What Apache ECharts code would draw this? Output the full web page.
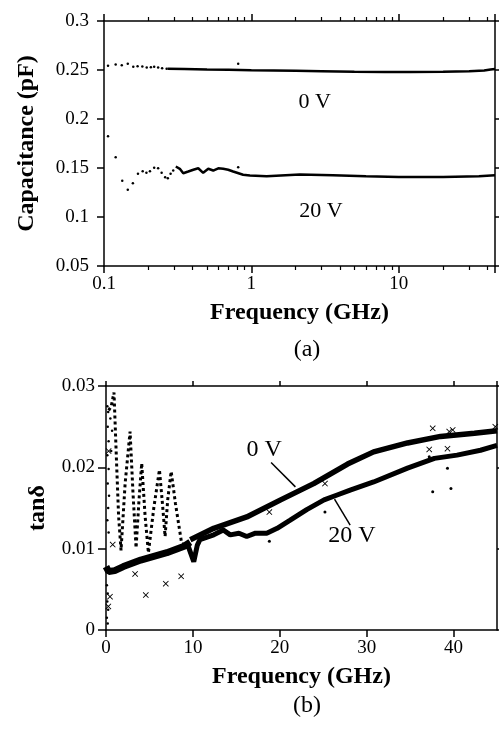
<!DOCTYPE html>
<html>
<head>
<meta charset="utf-8">
<script src="https://cdn.jsdelivr.net/npm/echarts@6/dist/echarts.min.js"></script>
<style>
  html, body { margin: 0; padding: 0; background: #fff; }
  #main { width: 499px; height: 731px; }
</style>
</head>
<body>
<div id="main"></div>
<script>
// (a) capacitance vs frequency (GHz, log)
const cap0Sparse = [[0.1065,0.2543],[0.120,0.2556],[0.132,0.2549],[0.145,0.2563],[0.158,0.2533],[0.169,0.2539],[0.182,0.2536],[0.195,0.2526],[0.208,0.2529],[0.219,0.2533],[0.233,0.2526],[0.248,0.2518],[0.266,0.2512],[0.814,0.2563]];
const cap0Line = [[0.27,0.2512],[0.35,0.2510],[0.5,0.2505],[0.7,0.2502],[1,0.2498],[2,0.2492],[3,0.2488],[5,0.2482],[8,0.2480],[12,0.2479],[20,0.2482],[30,0.2488],[38,0.2495],[42,0.2505],[45,0.2510]];
const cap20Sparse = [[0.1065,0.1825],[0.120,0.1610],[0.133,0.1369],[0.145,0.1278],[0.157,0.1345],[0.170,0.1441],[0.183,0.1467],[0.194,0.1451],[0.205,0.1467],[0.219,0.1502],[0.233,0.1498],[0.246,0.1451],[0.260,0.1406],[0.271,0.1396],[0.283,0.1441],[0.295,0.1474],[0.814,0.1507]];
const cap20Line = [[0.307,0.1515],[0.327,0.1492],[0.345,0.1447],[0.373,0.1464],[0.404,0.1482],[0.436,0.1497],[0.471,0.1451],[0.51,0.1492],[0.551,0.1474],[0.596,0.1497],[0.644,0.1492],[0.696,0.1482],[0.752,0.1464],[0.879,0.1431],[0.978,0.1424],[1.27,0.1417],[2.13,0.1434],[3.57,0.1425],[6,0.1415],[10,0.1408],[20,0.1408],[35,0.1415],[45,0.1425]];
const capLabels = [[2.69,0.2168,'0 V'],[2.96,0.1056,'20 V']];

// (b) tan delta vs frequency (GHz, linear)
const tan0Low = [[0,0.0078],[0.3,0.0072],[1,0.0073],[2,0.0078],[3,0.0082],[4,0.0086],[5,0.0089],[6,0.0092],[7,0.0095],[8,0.0099],[9,0.0103],[9.7,0.0108]];
const tan0High = [[9.7,0.0111],[12.4,0.0125],[16.2,0.0139],[20.1,0.0160],[23.9,0.0180],[27.8,0.0204],[30.8,0.0219],[34.7,0.0230],[38.5,0.0238],[42.4,0.0242],[45,0.0245]];
const tan20Osc = [[0.3,0.0270],[0.6,0.0275],[0.92,0.0292],[1.2,0.0210],[1.45,0.0140],[1.73,0.0098],[2.2,0.0180],[2.77,0.0244],[3.1,0.0170],[3.46,0.0101],[3.8,0.0160],[4.11,0.0205],[4.5,0.0140],[4.88,0.0095],[5.5,0.0150],[6.15,0.0197],[6.5,0.0155],[6.8,0.0115],[7.1,0.0160],[7.5,0.0195],[8.0,0.0155],[8.7,0.0107]];
const tan20Line = [[8.7,0.0105],[9.5,0.0102],[10.1,0.0084],[10.5,0.0104],[10.8,0.0111],[12.4,0.0117],[13.5,0.0123],[14.3,0.0117],[15.3,0.0119],[16.2,0.0115],[17.2,0.0119],[18.5,0.0119],[19.7,0.0125],[21.2,0.0135],[23.1,0.0148],[25.1,0.0160],[26.6,0.0166],[28.1,0.0172],[30.8,0.0182],[34.7,0.0199],[37.8,0.0211],[40.4,0.0215],[43.1,0.0221],[45,0.0227]];
const tanLeftDots = [[0.15,0.0275],[0.25,0.0268],[0.2,0.0250],[0.3,0.0232],[0.15,0.0215],[0.3,0.0198],[0.2,0.0180],[0.35,0.0165],[0.25,0.0150],[0.15,0.0135],[0.3,0.0120],[0.1,0.0055],[0.2,0.0045],[0.15,0.0035],[0.25,0.0025],[0.1,0.0015],[0.2,0.0008],[0.5,0.0260],[0.7,0.0245],[0.6,0.0220]];
const tanCross = [[0.27,0.0029],[0.46,0.0041],[0.77,0.0105],[3.35,0.0069],[4.58,0.0043],[6.88,0.0057],[8.65,0.0066],[18.8,0.0145],[25.2,0.0180],[37.2,0.0222],[37.6,0.0248],[39.3,0.0223],[39.5,0.0244],[39.9,0.0246],[44.8,0.0250],[0.3,0.0220]];
const tanStray = [[37.6,0.0170],[39.7,0.0174],[25.2,0.0145],[18.8,0.0109],[39.3,0.0199],[37.2,0.0213]];
const lead0 = [[19.0,0.0206],[21.8,0.0176]];
const lead20 = [[26.3,0.0161],[28.1,0.0129]];
const tanLabels = [[18.2,0.0222,'0 V'],[28.3,0.01156,'20 V']];

const FONT = 'Liberation Serif';
const crossPath = 'path://M0,1L1,0L5,4L9,0L10,1L6,5L10,9L9,10L5,6L1,10L0,9L4,5Z';

const axisLine = { show: true, onZero: false, lineStyle: { color: '#000', width: 1.5 } };
const tick = { show: true, inside: false, length: 7, lineStyle: { color: '#000', width: 1.5 } };
const label = { color: '#000', fontFamily: FONT, fontSize: 19 };
const nameStyle = { color: '#000', fontFamily: FONT, fontSize: 24, fontWeight: 'bold' };

function lineS(data, x, y, width, extra) {
  return Object.assign({
    type: 'line', xAxisIndex: x, yAxisIndex: y, data: data, showSymbol: false, symbol: 'none',
    lineStyle: { color: '#000', width: width }, silent: true, animation: false
  }, extra || {});
}
function dots(data, x, y, size, symbol) {
  return {
    type: 'scatter', xAxisIndex: x, yAxisIndex: y, data: data, symbol: symbol || 'circle',
    symbolSize: size, itemStyle: { color: '#000', opacity: 1 }, silent: true, animation: false
  };
}
function texts(data, x, y, size) {
  return {
    type: 'scatter', xAxisIndex: x, yAxisIndex: y, data: data, symbolSize: 0, silent: true, animation: false,
    itemStyle: { color: '#000', opacity: 1 },
    label: {
      show: true, position: 'inside', formatter: p => p.data[2], color: '#000',
      textBorderWidth: 0, fontFamily: FONT, fontSize: size
    }
  };
}

const chart = echarts.init(document.getElementById('main'), null, { renderer: 'canvas' });

const option = {
  backgroundColor: '#fff',
  animation: false,
  title: [
    { text: '(a)', left: 302, top: 333, textAlign: 'center', textStyle: { color: '#000', fontFamily: FONT, fontSize: 24, fontWeight: 'normal' } },
    { text: '(b)', left: 302, top: 689, textAlign: 'center', textStyle: { color: '#000', fontFamily: FONT, fontSize: 24, fontWeight: 'normal' } }
  ],
  grid: [
    { left: 104, top: 21, right: 4, height: 245 },
    { left: 106, top: 386, right: 2, height: 244 }
  ],
  xAxis: [
    {
      gridIndex: 0, type: 'log', logBase: 10, min: 0.1, max: 45, position: 'bottom',
      axisLine: axisLine, axisTick: tick,
      minorTick: { show: true, splitNumber: 9, length: 4, lineStyle: { color: '#000', width: 1.2 } },
      axisLabel: Object.assign({ margin: 9, showMaxLabel: false }, label),
      splitLine: { show: false },
      name: 'Frequency (GHz)', nameLocation: 'middle', nameGap: 35, nameTextStyle: nameStyle
    },
    {
      gridIndex: 0, type: 'log', logBase: 10, min: 0.1, max: 45, position: 'top',
      axisLine: axisLine, axisTick: tick,
      minorTick: { show: true, splitNumber: 9, length: 4, lineStyle: { color: '#000', width: 1.2 } },
      axisLabel: { show: false }, splitLine: { show: false }
    },
    {
      gridIndex: 1, type: 'value', min: 0, max: 45, interval: 10, position: 'bottom',
      axisLine: axisLine, axisTick: tick,
      axisLabel: Object.assign({ margin: 9, showMaxLabel: false }, label),
      splitLine: { show: false },
      name: 'Frequency (GHz)', nameLocation: 'middle', nameGap: 35, nameTextStyle: nameStyle
    },
    {
      gridIndex: 1, type: 'value', min: 0, max: 45, interval: 10, position: 'top',
      axisLine: axisLine, axisTick: Object.assign({}, tick, { length: 5 }),
      axisLabel: { show: false }, splitLine: { show: false }
    }
  ],
  yAxis: [
    {
      gridIndex: 0, type: 'value', min: 0.05, max: 0.3, interval: 0.05, position: 'left',
      axisLine: axisLine, axisTick: tick,
      axisLabel: Object.assign({ margin: 15 }, label),
      splitLine: { show: false },
      name: 'Capacitance (pF)', nameLocation: 'middle', nameGap: 65, nameTextStyle: nameStyle
    },
    {
      gridIndex: 0, type: 'value', min: 0.05, max: 0.3, interval: 0.05, position: 'right',
      axisLine: axisLine, axisTick: Object.assign({}, tick, { length: 4 }),
      axisLabel: { show: false }, splitLine: { show: false }
    },
    {
      gridIndex: 1, type: 'value', min: 0, max: 0.03, interval: 0.01, position: 'left',
      axisLine: axisLine, axisTick: Object.assign({}, tick, { length: 8 }),
      axisLabel: Object.assign({ margin: 11 }, label),
      splitLine: { show: false },
      name: 'tanδ', nameLocation: 'middle', nameGap: 56, nameTextStyle: nameStyle
    },
    {
      gridIndex: 1, type: 'value', min: 0, max: 0.03, interval: 0.01, position: 'right',
      axisLine: axisLine, axisTick: Object.assign({}, tick, { length: 4 }),
      axisLabel: { show: false }, splitLine: { show: false }
    }
  ],
  series: [
    dots(cap0Sparse, 0, 0, 2.5),
    lineS(cap0Line, 0, 0, 2.5),
    dots(cap20Sparse, 0, 0, 2.5),
    lineS(cap20Line, 0, 0, 2.5),
    texts(capLabels, 0, 0, 22),

    lineS(tan0Low, 2, 2, 7),
    lineS(tan0High, 2, 2, 5.5),
    lineS(tan20Osc, 2, 2, 3, { lineStyle: { color: '#000', width: 3, type: 'dotted' } }),
    lineS(tan20Line, 2, 2, 5),
    dots(tanLeftDots, 2, 2, 2.5),
    dots(tanCross, 2, 2, 6, crossPath),
    dots(tanStray, 2, 2, 3),
    lineS(lead0, 2, 2, 1.5),
    lineS(lead20, 2, 2, 1.5),
    texts(tanLabels, 2, 2, 24)
  ]
};

chart.setOption(option);
</script>
</body>
</html>
